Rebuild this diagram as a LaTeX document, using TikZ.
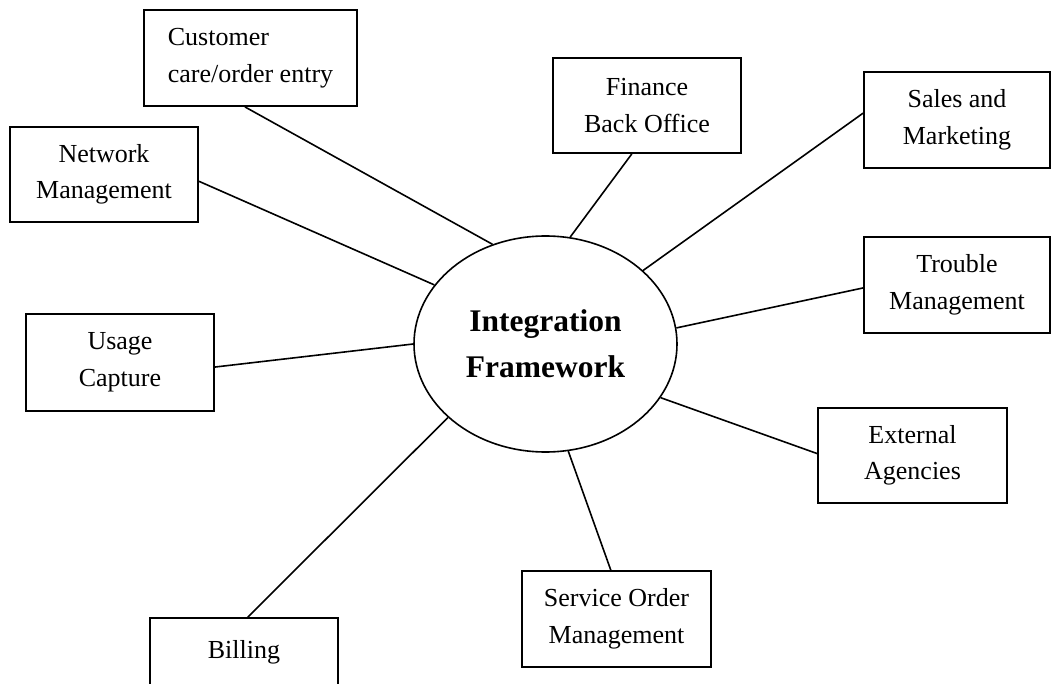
\documentclass[tikz,border=0pt]{standalone}
\usepackage{fontspec}
\setmainfont{Liberation Serif}
\usetikzlibrary{shapes.geometric,calc}
\begin{document}
\begin{tikzpicture}[x=1pt,y=-1pt,
  box/.style={draw,line width=1.8pt,rectangle,inner sep=0pt,align=center,
    font=\fontsize{26}{36.5}\selectfont},
  hub/.style={draw,line width=1.6pt,ellipse,inner sep=0pt,align=center,
    minimum width=263pt,minimum height=216pt,
    font=\fontsize{31.5}{46}\selectfont\bfseries},
  link/.style={line width=1.6pt}]
\useasboundingbox (0,0) rectangle (1055,684);
\clip (0,0) rectangle (1055,684);
\node[hub] (ell) at (545.5,344) {Integration\\Framework};
\node[box,align=left,minimum width=213pt,minimum height=96pt] (cust) at (250.5,58) {Customer\\care/order entry};
\node[box,minimum width=188pt,minimum height=95pt] (net) at (104,174.5) {Network\\Management};
\node[box,minimum width=188pt,minimum height=97pt] (usage) at (120,362.5) {Usage\\Capture};
\node[box,minimum width=188pt,minimum height=68pt] (bill) at (244,652) {Billing};
\node[box,minimum width=188pt,minimum height=95pt] (fin) at (647,105.5) {Finance\\Back Office};
\node[box,minimum width=186pt,minimum height=96pt] (sales) at (957,120) {Sales and\\Marketing};
\node[box,minimum width=186pt,minimum height=96pt] (trouble) at (957,285) {Trouble\\Management};
\node[box,minimum width=189pt,minimum height=95pt] (ext) at (912.5,455.5) {External\\Agencies};
\node[box,minimum width=189pt,minimum height=96pt] (serv) at (616.5,619) {Service Order\\Management};
\draw[link] ($(cust.south west)!0.474!(cust.south east)$) -- (ell.118);
\draw[link] ($(net.north east)!0.57!(net.south east)$) -- (ell.152);
\draw[link] ($(usage.north east)!0.546!(usage.south east)$) -- (ell.180);
\draw[link] ($(bill.north west)!0.52!(bill.north east)$) -- (ell.217);
\draw[link] ($(fin.south west)!0.42!(fin.south east)$) -- (ell.77);
\draw[link] ($(sales.north west)!0.43!(sales.south west)$) -- (ell.37.5);
\draw[link] ($(trouble.north west)!0.53!(trouble.south west)$) -- (ell.7);
\draw[link] ($(ext.north west)!0.48!(ext.south west)$) -- (ell.-25);
\draw[link] ($(serv.north west)!0.47!(serv.north east)$) -- (ell.-78);
\end{tikzpicture}
\end{document}
